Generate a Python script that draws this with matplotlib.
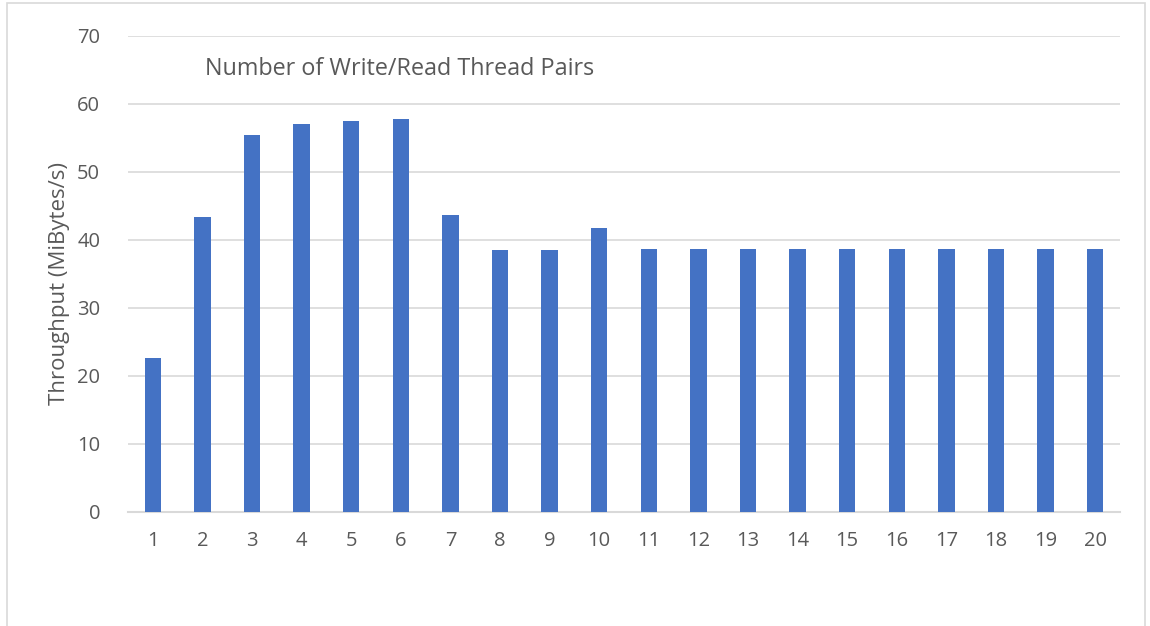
import matplotlib.pyplot as plt
from matplotlib.patches import Rectangle

plt.rcParams['font.family'] = ['Open Sans', 'DejaVu Sans']

# 스레드 쌍 개수별 처리량
pairs = list(range(1, 21))
throughput = [22.6, 43.3, 55.4, 57.0, 57.5, 57.7, 43.6, 38.5, 38.5, 41.7,
              38.7, 38.6, 38.6, 38.6, 38.7, 38.7, 38.6, 38.7, 38.7, 38.7]
y_ticks = [0, 10, 20, 30, 40, 50, 60, 70]

bar_color = '#4472C4'
grid_color = '#D9D9D9'
text_color = '#595959'

fig = plt.figure(figsize=(11.5, 6.26), dpi=100)
ax = fig.add_axes([0.1113, 0.1826, 0.8626, 0.7604])

ax.bar(pairs, throughput, width=0.33, color=bar_color, zorder=3)

ax.set_xlim(0.5, 20.5)
ax.set_ylim(0, 70)
ax.set_yticks(y_ticks)
ax.set_xticks(pairs)
ax.set_xticklabels([str(p) for p in pairs])

ax.grid(axis='y', color=grid_color, linewidth=1.2, zorder=0)
for s in ['top', 'right', 'left']:
    ax.spines[s].set_visible(False)
ax.spines['bottom'].set_color(grid_color)
ax.spines['bottom'].set_linewidth(1.5)

ax.tick_params(axis='both', length=0, labelsize=14.5, colors=text_color)
ax.tick_params(axis='x', pad=14)
ax.tick_params(axis='y', pad=20)

ax.set_ylabel('Throughput (MiBytes/s)', fontsize=16, color=text_color)
ax.yaxis.set_label_coords(-0.058, 0.48)
ax.text(0.078, 0.93, 'Number of Write/Read Thread Pairs', transform=ax.transAxes,
        fontsize=16.8, color=text_color, ha='left', va='center')

# 차트 테두리
fig.patches.append(Rectangle((0.006, -0.05), 0.99, 1.045, transform=fig.transFigure,
                             fill=False, edgecolor=grid_color, linewidth=1.2))

fig.savefig('out.png', dpi=100)
